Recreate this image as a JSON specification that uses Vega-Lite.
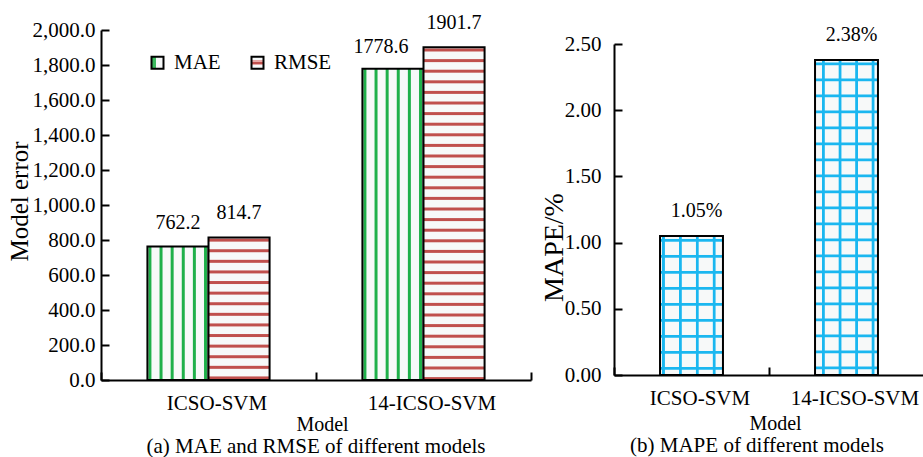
{
  "$schema": "https://vega.github.io/schema/vega-lite/v6.json",
  "padding": {"left": 7, "top": 13, "right": 0, "bottom": 0},
  "bounds": "flush",
  "spacing": 83,
  "resolve": {"scale": {"color": "independent"}, "legend": {"color": "independent"}},
  "config": {
    "view": {"stroke": null},
    "font": "Liberation Serif",
    "axis": {"labelFont": "Liberation Serif", "labelFontSize": 21, "labelColor": "black", "titleFont": "Liberation Serif", "titleFontWeight": "normal", "titleColor": "black", "titleFontSize": 20, "domainColor": "black", "domainWidth": 2, "tickColor": "black", "tickWidth": 2, "grid": false},
    "axisX": {"labelAngle": 0, "labelFontSize": 21},
    "title": {"font": "Liberation Serif", "fontSize": 21, "fontWeight": "normal", "color": "black"}
  },
  "hconcat": [
    {
      "width": 430,
      "height": 350,
      "title": {"text": "(a) MAE and RMSE of different models", "orient": "bottom", "anchor": "middle", "offset": 1.5},
      "data": {"values": [
        {"model": "ICSO-SVM", "metric": "MAE", "value": 762.2, "key": "MAE|ICSO-SVM"},
        {"model": "ICSO-SVM", "metric": "RMSE", "value": 814.7, "key": "RMSE|ICSO-SVM"},
        {"model": "14-ICSO-SVM", "metric": "MAE", "value": 1778.6, "key": "MAE|14-ICSO-SVM"},
        {"model": "14-ICSO-SVM", "metric": "RMSE", "value": 1901.7, "key": "RMSE|14-ICSO-SVM"}
      ]},
      "encoding": {
        "x": {"field": "model", "type": "nominal", "sort": ["ICSO-SVM", "14-ICSO-SVM"], "scale": {"paddingInner": 0, "paddingOuter": 0},
          "axis": {"title": "Model", "tickBand": "extent", "tickSize": -8, "labelPadding": 20, "labelOffset": 8, "titlePadding": 1.5, "titleX": 221}},
        "xOffset": {"field": "metric", "type": "nominal", "sort": ["MAE", "RMSE"], "scale": {"paddingInner": 0, "paddingOuter": 0.76}},
        "y": {"field": "value", "type": "quantitative", "scale": {"domain": [0, 2000], "nice": false},
          "axis": {"title": "Model error", "values": [0, 200, 400, 600, 800, 1000, 1200, 1400, 1600, 1800, 2000], "format": ",.1f", "tickSize": -8, "labelPadding": 14, "titlePadding": 0, "titleFontSize": 25, "titleY": 171}}
      },
      "layer": [
        {
          "mark": {"type": "bar", "stroke": "black", "strokeWidth": 2},
          "encoding": {
            "color": {"field": "key", "type": "nominal",
              "scale": {
                "domain": ["MAE|ICSO-SVM", "RMSE|ICSO-SVM", "MAE|14-ICSO-SVM", "RMSE|14-ICSO-SVM", "MAE", "RMSE"],
                "range": [
                  {"expr": "{gradient:'linear',x1:0,y1:0,x2:1,y2:0,stops:[{offset:0,color:'#f7f9f9'},{offset:0.008,color:'#f7f9f9'},{offset:0.025,color:'#1fb04a'},{offset:0.057,color:'#1fb04a'},{offset:0.074,color:'#f7f9f9'},{offset:0.19,color:'#f7f9f9'},{offset:0.207,color:'#1fb04a'},{offset:0.239,color:'#1fb04a'},{offset:0.256,color:'#f7f9f9'},{offset:0.372,color:'#f7f9f9'},{offset:0.389,color:'#1fb04a'},{offset:0.421,color:'#1fb04a'},{offset:0.438,color:'#f7f9f9'},{offset:0.554,color:'#f7f9f9'},{offset:0.571,color:'#1fb04a'},{offset:0.603,color:'#1fb04a'},{offset:0.62,color:'#f7f9f9'},{offset:0.736,color:'#f7f9f9'},{offset:0.753,color:'#1fb04a'},{offset:0.785,color:'#1fb04a'},{offset:0.802,color:'#f7f9f9'},{offset:0.918,color:'#f7f9f9'},{offset:0.935,color:'#1fb04a'},{offset:0.967,color:'#1fb04a'},{offset:0.984,color:'#f7f9f9'},{offset:1,color:'#f7f9f9'}]}"},
                  {"expr": "{gradient:'linear',x1:0,y1:0,x2:0,y2:1,stops:[{offset:0,color:'#f7f9f9'},{offset:0.0049,color:'#f7f9f9'},{offset:0.0119,color:'#c0504d'},{offset:0.026,color:'#c0504d'},{offset:0.033,color:'#f7f9f9'},{offset:0.0793,color:'#f7f9f9'},{offset:0.0863,color:'#c0504d'},{offset:0.1003,color:'#c0504d'},{offset:0.1073,color:'#f7f9f9'},{offset:0.1536,color:'#f7f9f9'},{offset:0.1606,color:'#c0504d'},{offset:0.1747,color:'#c0504d'},{offset:0.1817,color:'#f7f9f9'},{offset:0.228,color:'#f7f9f9'},{offset:0.235,color:'#c0504d'},{offset:0.249,color:'#c0504d'},{offset:0.256,color:'#f7f9f9'},{offset:0.3023,color:'#f7f9f9'},{offset:0.3093,color:'#c0504d'},{offset:0.3234,color:'#c0504d'},{offset:0.3304,color:'#f7f9f9'},{offset:0.3767,color:'#f7f9f9'},{offset:0.3837,color:'#c0504d'},{offset:0.3977,color:'#c0504d'},{offset:0.4047,color:'#f7f9f9'},{offset:0.451,color:'#f7f9f9'},{offset:0.458,color:'#c0504d'},{offset:0.4721,color:'#c0504d'},{offset:0.4791,color:'#f7f9f9'},{offset:0.5254,color:'#f7f9f9'},{offset:0.5324,color:'#c0504d'},{offset:0.5464,color:'#c0504d'},{offset:0.5534,color:'#f7f9f9'},{offset:0.5997,color:'#f7f9f9'},{offset:0.6067,color:'#c0504d'},{offset:0.6208,color:'#c0504d'},{offset:0.6278,color:'#f7f9f9'},{offset:0.6741,color:'#f7f9f9'},{offset:0.6811,color:'#c0504d'},{offset:0.6951,color:'#c0504d'},{offset:0.7021,color:'#f7f9f9'},{offset:0.7484,color:'#f7f9f9'},{offset:0.7554,color:'#c0504d'},{offset:0.7695,color:'#c0504d'},{offset:0.7765,color:'#f7f9f9'},{offset:0.8228,color:'#f7f9f9'},{offset:0.8298,color:'#c0504d'},{offset:0.8438,color:'#c0504d'},{offset:0.8508,color:'#f7f9f9'},{offset:0.8971,color:'#f7f9f9'},{offset:0.9041,color:'#c0504d'},{offset:0.9182,color:'#c0504d'},{offset:0.9252,color:'#f7f9f9'},{offset:0.9715,color:'#f7f9f9'},{offset:0.9785,color:'#c0504d'},{offset:0.9925,color:'#c0504d'},{offset:0.9995,color:'#f7f9f9'},{offset:1,color:'#f7f9f9'}]}"},
                  {"expr": "{gradient:'linear',x1:0,y1:0,x2:1,y2:0,stops:[{offset:0,color:'#f7f9f9'},{offset:0.008,color:'#f7f9f9'},{offset:0.025,color:'#1fb04a'},{offset:0.057,color:'#1fb04a'},{offset:0.074,color:'#f7f9f9'},{offset:0.19,color:'#f7f9f9'},{offset:0.207,color:'#1fb04a'},{offset:0.239,color:'#1fb04a'},{offset:0.256,color:'#f7f9f9'},{offset:0.372,color:'#f7f9f9'},{offset:0.389,color:'#1fb04a'},{offset:0.421,color:'#1fb04a'},{offset:0.438,color:'#f7f9f9'},{offset:0.554,color:'#f7f9f9'},{offset:0.571,color:'#1fb04a'},{offset:0.603,color:'#1fb04a'},{offset:0.62,color:'#f7f9f9'},{offset:0.736,color:'#f7f9f9'},{offset:0.753,color:'#1fb04a'},{offset:0.785,color:'#1fb04a'},{offset:0.802,color:'#f7f9f9'},{offset:0.918,color:'#f7f9f9'},{offset:0.935,color:'#1fb04a'},{offset:0.967,color:'#1fb04a'},{offset:0.984,color:'#f7f9f9'},{offset:1,color:'#f7f9f9'}]}"},
                  {"expr": "{gradient:'linear',x1:0,y1:0,x2:0,y2:1,stops:[{offset:0,color:'#f7f9f9'},{offset:0.0024,color:'#f7f9f9'},{offset:0.0054,color:'#c0504d'},{offset:0.0114,color:'#c0504d'},{offset:0.0144,color:'#f7f9f9'},{offset:0.0343,color:'#f7f9f9'},{offset:0.0373,color:'#c0504d'},{offset:0.0433,color:'#c0504d'},{offset:0.0463,color:'#f7f9f9'},{offset:0.0661,color:'#f7f9f9'},{offset:0.0691,color:'#c0504d'},{offset:0.0751,color:'#c0504d'},{offset:0.0781,color:'#f7f9f9'},{offset:0.098,color:'#f7f9f9'},{offset:0.101,color:'#c0504d'},{offset:0.107,color:'#c0504d'},{offset:0.11,color:'#f7f9f9'},{offset:0.1298,color:'#f7f9f9'},{offset:0.1328,color:'#c0504d'},{offset:0.1388,color:'#c0504d'},{offset:0.1418,color:'#f7f9f9'},{offset:0.1617,color:'#f7f9f9'},{offset:0.1647,color:'#c0504d'},{offset:0.1707,color:'#c0504d'},{offset:0.1737,color:'#f7f9f9'},{offset:0.1935,color:'#f7f9f9'},{offset:0.1965,color:'#c0504d'},{offset:0.2025,color:'#c0504d'},{offset:0.2055,color:'#f7f9f9'},{offset:0.2254,color:'#f7f9f9'},{offset:0.2284,color:'#c0504d'},{offset:0.2344,color:'#c0504d'},{offset:0.2374,color:'#f7f9f9'},{offset:0.2572,color:'#f7f9f9'},{offset:0.2602,color:'#c0504d'},{offset:0.2662,color:'#c0504d'},{offset:0.2692,color:'#f7f9f9'},{offset:0.2891,color:'#f7f9f9'},{offset:0.2921,color:'#c0504d'},{offset:0.2981,color:'#c0504d'},{offset:0.3011,color:'#f7f9f9'},{offset:0.3209,color:'#f7f9f9'},{offset:0.3239,color:'#c0504d'},{offset:0.3299,color:'#c0504d'},{offset:0.3329,color:'#f7f9f9'},{offset:0.3528,color:'#f7f9f9'},{offset:0.3558,color:'#c0504d'},{offset:0.3618,color:'#c0504d'},{offset:0.3648,color:'#f7f9f9'},{offset:0.3846,color:'#f7f9f9'},{offset:0.3876,color:'#c0504d'},{offset:0.3936,color:'#c0504d'},{offset:0.3966,color:'#f7f9f9'},{offset:0.4165,color:'#f7f9f9'},{offset:0.4195,color:'#c0504d'},{offset:0.4255,color:'#c0504d'},{offset:0.4285,color:'#f7f9f9'},{offset:0.4483,color:'#f7f9f9'},{offset:0.4513,color:'#c0504d'},{offset:0.4573,color:'#c0504d'},{offset:0.4603,color:'#f7f9f9'},{offset:0.4802,color:'#f7f9f9'},{offset:0.4832,color:'#c0504d'},{offset:0.4892,color:'#c0504d'},{offset:0.4922,color:'#f7f9f9'},{offset:0.512,color:'#f7f9f9'},{offset:0.515,color:'#c0504d'},{offset:0.521,color:'#c0504d'},{offset:0.524,color:'#f7f9f9'},{offset:0.5439,color:'#f7f9f9'},{offset:0.5469,color:'#c0504d'},{offset:0.5529,color:'#c0504d'},{offset:0.5559,color:'#f7f9f9'},{offset:0.5757,color:'#f7f9f9'},{offset:0.5787,color:'#c0504d'},{offset:0.5847,color:'#c0504d'},{offset:0.5877,color:'#f7f9f9'},{offset:0.6076,color:'#f7f9f9'},{offset:0.6106,color:'#c0504d'},{offset:0.6166,color:'#c0504d'},{offset:0.6196,color:'#f7f9f9'},{offset:0.6394,color:'#f7f9f9'},{offset:0.6424,color:'#c0504d'},{offset:0.6484,color:'#c0504d'},{offset:0.6514,color:'#f7f9f9'},{offset:0.6713,color:'#f7f9f9'},{offset:0.6743,color:'#c0504d'},{offset:0.6803,color:'#c0504d'},{offset:0.6833,color:'#f7f9f9'},{offset:0.7031,color:'#f7f9f9'},{offset:0.7061,color:'#c0504d'},{offset:0.7121,color:'#c0504d'},{offset:0.7151,color:'#f7f9f9'},{offset:0.735,color:'#f7f9f9'},{offset:0.738,color:'#c0504d'},{offset:0.744,color:'#c0504d'},{offset:0.747,color:'#f7f9f9'},{offset:0.7668,color:'#f7f9f9'},{offset:0.7698,color:'#c0504d'},{offset:0.7758,color:'#c0504d'},{offset:0.7788,color:'#f7f9f9'},{offset:0.7987,color:'#f7f9f9'},{offset:0.8017,color:'#c0504d'},{offset:0.8077,color:'#c0504d'},{offset:0.8107,color:'#f7f9f9'},{offset:0.8305,color:'#f7f9f9'},{offset:0.8335,color:'#c0504d'},{offset:0.8395,color:'#c0504d'},{offset:0.8425,color:'#f7f9f9'},{offset:0.8624,color:'#f7f9f9'},{offset:0.8654,color:'#c0504d'},{offset:0.8714,color:'#c0504d'},{offset:0.8744,color:'#f7f9f9'},{offset:0.8942,color:'#f7f9f9'},{offset:0.8972,color:'#c0504d'},{offset:0.9032,color:'#c0504d'},{offset:0.9062,color:'#f7f9f9'},{offset:0.9261,color:'#f7f9f9'},{offset:0.9291,color:'#c0504d'},{offset:0.9351,color:'#c0504d'},{offset:0.9381,color:'#f7f9f9'},{offset:0.9579,color:'#f7f9f9'},{offset:0.9609,color:'#c0504d'},{offset:0.9669,color:'#c0504d'},{offset:0.9699,color:'#f7f9f9'},{offset:0.9898,color:'#f7f9f9'},{offset:0.9928,color:'#c0504d'},{offset:1,color:'#c0504d'}]}"},
                  {"expr": "{gradient:'linear',x1:0,y1:0,x2:1,y2:0,stops:[{offset:0,color:'#3cba5f'},{offset:0.35,color:'#3cba5f'},{offset:0.35,color:'#f7f9f9'},{offset:1,color:'#f7f9f9'}]}"},
                  {"expr": "{gradient:'linear',x1:0,y1:0,x2:0,y2:1,stops:[{offset:0,color:'#f7f9f9'},{offset:0.3,color:'#f7f9f9'},{offset:0.3,color:'#e8a9a8'},{offset:0.4,color:'#e8a9a8'},{offset:0.4,color:'#c0504d'},{offset:0.6,color:'#c0504d'},{offset:0.6,color:'#e8a9a8'},{offset:0.7,color:'#e8a9a8'},{offset:0.7,color:'#f7f9f9'},{offset:1,color:'#f7f9f9'}]}"}
                ]
              },
              "legend": {"values": ["MAE", "RMSE"], "orient": "none", "legendX": 46, "legendY": 22, "direction": "horizontal", "title": null, "padding": 0,
                "symbolType": "square", "symbolSize": 144, "symbolStrokeColor": "black", "symbolStrokeWidth": 2,
                "labelFont": "Liberation Serif", "labelFontSize": 21, "labelColor": "black", "labelOffset": 6, "columnPadding": 26}
            }
          }
        },
        {
          "transform": [{"filter": "datum.key !== 'MAE|14-ICSO-SVM'"}],
          "mark": {"type": "text", "font": "Liberation Serif", "fontSize": 20, "color": "black", "dy": -24, "baseline": "middle"},
          "encoding": {"text": {"field": "value", "type": "quantitative", "format": ".1f"}}
        },
        {
          "transform": [{"filter": "datum.key === 'MAE|14-ICSO-SVM'"}],
          "mark": {"type": "text", "font": "Liberation Serif", "fontSize": 20, "color": "black", "dy": -22, "dx": -12, "baseline": "middle"},
          "encoding": {"text": {"field": "value", "type": "quantitative", "format": ".1f"}}
        }
      ]
    },
    {
      "width": 310,
      "height": 345,
      "title": {"text": "(b) MAPE of different models", "orient": "bottom", "anchor": "middle", "offset": 2, "dx": -12},
      "data": {"values": [
        {"model": "ICSO-SVM", "mape": 1.05},
        {"model": "14-ICSO-SVM", "mape": 2.38}
      ]},
      "transform": [{"calculate": "format(datum.mape, '.2f') + '%'", "as": "label"}],
      "encoding": {
        "x": {"field": "model", "type": "nominal", "sort": ["ICSO-SVM", "14-ICSO-SVM"], "scale": {"paddingInner": 0, "paddingOuter": 0},
          "axis": {"title": "Model", "tickBand": "extent", "tickSize": -8, "labelPadding": 20, "labelOffset": 8, "titlePadding": 5, "titleX": 161}},
        "y": {"field": "mape", "type": "quantitative", "scale": {"domain": [0, 2.5], "nice": false, "range": [345, 14]},
          "axis": {"title": "MAPE/%", "values": [0, 0.5, 1, 1.5, 2, 2.5], "format": ".2f", "tickSize": -8, "labelPadding": 21, "titlePadding": -4, "titleFontSize": 28, "titleY": 217}}
      },
      "layer": [
        {
          "mark": {"type": "bar", "width": {"band": 0.406}},
          "encoding": {
            "fill": {
              "condition": {"test": "datum.model === 'ICSO-SVM'", "value": {"gradient": "linear", "x1": 0, "y1": 0, "x2": 1, "y2": 0, "stops": [
                {"offset": 0, "color": "#f7f9f9"}, {"offset": 0.0254, "color": "#f7f9f9"}, {"offset": 0.0382, "color": "#1ab7f0"}, {"offset": 0.07, "color": "#1ab7f0"}, {"offset": 0.0827, "color": "#f7f9f9"},
                {"offset": 0.2941, "color": "#f7f9f9"}, {"offset": 0.3068, "color": "#1ab7f0"}, {"offset": 0.3386, "color": "#1ab7f0"}, {"offset": 0.3513, "color": "#f7f9f9"},
                {"offset": 0.5628, "color": "#f7f9f9"}, {"offset": 0.5755, "color": "#1ab7f0"}, {"offset": 0.6073, "color": "#1ab7f0"}, {"offset": 0.62, "color": "#f7f9f9"},
                {"offset": 0.8315, "color": "#f7f9f9"}, {"offset": 0.8442, "color": "#1ab7f0"}, {"offset": 0.876, "color": "#1ab7f0"}, {"offset": 0.8887, "color": "#f7f9f9"},
                {"offset": 1, "color": "#f7f9f9"}]}},
              "value": {"gradient": "linear", "x1": 0, "y1": 0, "x2": 1, "y2": 0, "stops": [
                {"offset": 0, "color": "#f7f9f9"}, {"offset": 0.1033, "color": "#f7f9f9"}, {"offset": 0.1161, "color": "#1ab7f0"}, {"offset": 0.1479, "color": "#1ab7f0"}, {"offset": 0.1606, "color": "#f7f9f9"},
                {"offset": 0.3688, "color": "#f7f9f9"}, {"offset": 0.3816, "color": "#1ab7f0"}, {"offset": 0.4133, "color": "#1ab7f0"}, {"offset": 0.4261, "color": "#f7f9f9"},
                {"offset": 0.6327, "color": "#f7f9f9"}, {"offset": 0.6455, "color": "#1ab7f0"}, {"offset": 0.6773, "color": "#1ab7f0"}, {"offset": 0.69, "color": "#f7f9f9"},
                {"offset": 0.8935, "color": "#f7f9f9"}, {"offset": 0.9062, "color": "#1ab7f0"}, {"offset": 0.938, "color": "#1ab7f0"}, {"offset": 0.9507, "color": "#f7f9f9"},
                {"offset": 1, "color": "#f7f9f9"}]}
            }
          }
        },
        {
          "mark": {"type": "bar", "width": {"band": 0.406}, "stroke": "black", "strokeWidth": 2},
          "encoding": {
            "fill": {
              "condition": {"test": "datum.model === 'ICSO-SVM'", "value": {"gradient": "linear", "x1": 0, "y1": 0, "x2": 0, "y2": 1, "stops": [
                {"offset": 0, "color": "rgba(26,183,240,0)"},
                {"offset": 0.018, "color": "rgba(26,183,240,0)"}, {"offset": 0.0237, "color": "#1ab7f0"}, {"offset": 0.0381, "color": "#1ab7f0"}, {"offset": 0.0439, "color": "rgba(26,183,240,0)"},
                {"offset": 0.1331, "color": "rgba(26,183,240,0)"}, {"offset": 0.1388, "color": "#1ab7f0"}, {"offset": 0.1532, "color": "#1ab7f0"}, {"offset": 0.159, "color": "rgba(26,183,240,0)"},
                {"offset": 0.2482, "color": "rgba(26,183,240,0)"}, {"offset": 0.254, "color": "#1ab7f0"}, {"offset": 0.2683, "color": "#1ab7f0"}, {"offset": 0.2741, "color": "rgba(26,183,240,0)"},
                {"offset": 0.3633, "color": "rgba(26,183,240,0)"}, {"offset": 0.3691, "color": "#1ab7f0"}, {"offset": 0.3835, "color": "#1ab7f0"}, {"offset": 0.3892, "color": "rgba(26,183,240,0)"},
                {"offset": 0.4784, "color": "rgba(26,183,240,0)"}, {"offset": 0.4842, "color": "#1ab7f0"}, {"offset": 0.4986, "color": "#1ab7f0"}, {"offset": 0.5043, "color": "rgba(26,183,240,0)"},
                {"offset": 0.5935, "color": "rgba(26,183,240,0)"}, {"offset": 0.5993, "color": "#1ab7f0"}, {"offset": 0.6137, "color": "#1ab7f0"}, {"offset": 0.6194, "color": "rgba(26,183,240,0)"},
                {"offset": 0.7086, "color": "rgba(26,183,240,0)"}, {"offset": 0.7144, "color": "#1ab7f0"}, {"offset": 0.7288, "color": "#1ab7f0"}, {"offset": 0.7345, "color": "rgba(26,183,240,0)"},
                {"offset": 0.8237, "color": "rgba(26,183,240,0)"}, {"offset": 0.8295, "color": "#1ab7f0"}, {"offset": 0.8439, "color": "#1ab7f0"}, {"offset": 0.8496, "color": "rgba(26,183,240,0)"},
                {"offset": 0.9388, "color": "rgba(26,183,240,0)"}, {"offset": 0.9446, "color": "#1ab7f0"}, {"offset": 0.959, "color": "#1ab7f0"}, {"offset": 0.9647, "color": "rgba(26,183,240,0)"},
                {"offset": 1, "color": "rgba(26,183,240,0)"}]}},
              "value": {"gradient": "linear", "x1": 0, "y1": 0, "x2": 0, "y2": 1, "stops": [
                {"offset": 0, "color": "rgba(26,183,240,0)"},
                {"offset": 0.007, "color": "rgba(26,183,240,0)"}, {"offset": 0.0095, "color": "#1ab7f0"}, {"offset": 0.0159, "color": "#1ab7f0"}, {"offset": 0.0184, "color": "rgba(26,183,240,0)"},
                {"offset": 0.0578, "color": "rgba(26,183,240,0)"}, {"offset": 0.0603, "color": "#1ab7f0"}, {"offset": 0.0666, "color": "#1ab7f0"}, {"offset": 0.0692, "color": "rgba(26,183,240,0)"},
                {"offset": 0.1085, "color": "rgba(26,183,240,0)"}, {"offset": 0.1111, "color": "#1ab7f0"}, {"offset": 0.1174, "color": "#1ab7f0"}, {"offset": 0.12, "color": "rgba(26,183,240,0)"},
                {"offset": 0.1593, "color": "rgba(26,183,240,0)"}, {"offset": 0.1619, "color": "#1ab7f0"}, {"offset": 0.1682, "color": "#1ab7f0"}, {"offset": 0.1707, "color": "rgba(26,183,240,0)"},
                {"offset": 0.2101, "color": "rgba(26,183,240,0)"}, {"offset": 0.2126, "color": "#1ab7f0"}, {"offset": 0.219, "color": "#1ab7f0"}, {"offset": 0.2215, "color": "rgba(26,183,240,0)"},
                {"offset": 0.2609, "color": "rgba(26,183,240,0)"}, {"offset": 0.2634, "color": "#1ab7f0"}, {"offset": 0.2698, "color": "#1ab7f0"}, {"offset": 0.2723, "color": "rgba(26,183,240,0)"},
                {"offset": 0.3117, "color": "rgba(26,183,240,0)"}, {"offset": 0.3142, "color": "#1ab7f0"}, {"offset": 0.3205, "color": "#1ab7f0"}, {"offset": 0.3231, "color": "rgba(26,183,240,0)"},
                {"offset": 0.3624, "color": "rgba(26,183,240,0)"}, {"offset": 0.365, "color": "#1ab7f0"}, {"offset": 0.3713, "color": "#1ab7f0"}, {"offset": 0.3738, "color": "rgba(26,183,240,0)"},
                {"offset": 0.4132, "color": "rgba(26,183,240,0)"}, {"offset": 0.4157, "color": "#1ab7f0"}, {"offset": 0.4221, "color": "#1ab7f0"}, {"offset": 0.4246, "color": "rgba(26,183,240,0)"},
                {"offset": 0.464, "color": "rgba(26,183,240,0)"}, {"offset": 0.4665, "color": "#1ab7f0"}, {"offset": 0.4729, "color": "#1ab7f0"}, {"offset": 0.4754, "color": "rgba(26,183,240,0)"},
                {"offset": 0.5148, "color": "rgba(26,183,240,0)"}, {"offset": 0.5173, "color": "#1ab7f0"}, {"offset": 0.5236, "color": "#1ab7f0"}, {"offset": 0.5262, "color": "rgba(26,183,240,0)"},
                {"offset": 0.5655, "color": "rgba(26,183,240,0)"}, {"offset": 0.5681, "color": "#1ab7f0"}, {"offset": 0.5744, "color": "#1ab7f0"}, {"offset": 0.577, "color": "rgba(26,183,240,0)"},
                {"offset": 0.6163, "color": "rgba(26,183,240,0)"}, {"offset": 0.6189, "color": "#1ab7f0"}, {"offset": 0.6252, "color": "#1ab7f0"}, {"offset": 0.6277, "color": "rgba(26,183,240,0)"},
                {"offset": 0.6671, "color": "rgba(26,183,240,0)"}, {"offset": 0.6696, "color": "#1ab7f0"}, {"offset": 0.676, "color": "#1ab7f0"}, {"offset": 0.6785, "color": "rgba(26,183,240,0)"},
                {"offset": 0.7179, "color": "rgba(26,183,240,0)"}, {"offset": 0.7204, "color": "#1ab7f0"}, {"offset": 0.7268, "color": "#1ab7f0"}, {"offset": 0.7293, "color": "rgba(26,183,240,0)"},
                {"offset": 0.7686, "color": "rgba(26,183,240,0)"}, {"offset": 0.7712, "color": "#1ab7f0"}, {"offset": 0.7775, "color": "#1ab7f0"}, {"offset": 0.7801, "color": "rgba(26,183,240,0)"},
                {"offset": 0.8194, "color": "rgba(26,183,240,0)"}, {"offset": 0.822, "color": "#1ab7f0"}, {"offset": 0.8283, "color": "#1ab7f0"}, {"offset": 0.8308, "color": "rgba(26,183,240,0)"},
                {"offset": 0.8702, "color": "rgba(26,183,240,0)"}, {"offset": 0.8727, "color": "#1ab7f0"}, {"offset": 0.8791, "color": "#1ab7f0"}, {"offset": 0.8816, "color": "rgba(26,183,240,0)"},
                {"offset": 0.921, "color": "rgba(26,183,240,0)"}, {"offset": 0.9235, "color": "#1ab7f0"}, {"offset": 0.9299, "color": "#1ab7f0"}, {"offset": 0.9324, "color": "rgba(26,183,240,0)"},
                {"offset": 0.9718, "color": "rgba(26,183,240,0)"}, {"offset": 0.9743, "color": "#1ab7f0"}, {"offset": 0.9806, "color": "#1ab7f0"}, {"offset": 0.9832, "color": "rgba(26,183,240,0)"},
                {"offset": 1, "color": "rgba(26,183,240,0)"}]}
            }
          }
        },
        {
          "mark": {"type": "text", "font": "Liberation Serif", "fontSize": 20, "color": "black", "dy": -25, "dx": 5, "baseline": "middle"},
          "encoding": {"text": {"field": "label", "type": "nominal"}}
        }
      ]
    }
  ]
}
